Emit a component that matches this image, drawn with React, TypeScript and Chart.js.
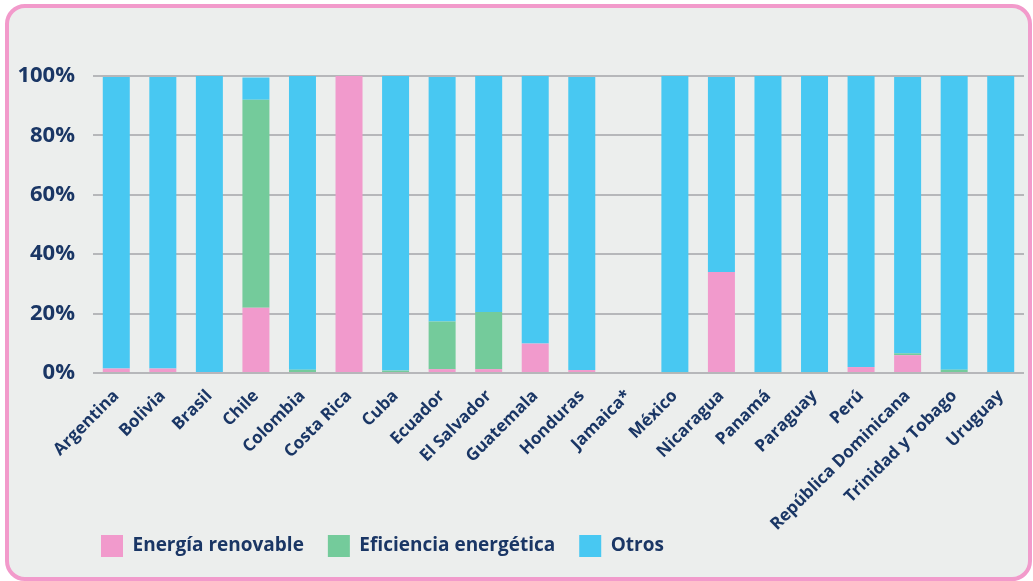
import React, { useEffect, useRef } from "react";
import { Chart, registerables } from "chart.js";

Chart.register(...registerables);

const countries = [
  "Argentina", "Bolivia", "Brasil", "Chile", "Colombia", "Costa Rica", "Cuba",
  "Ecuador", "El Salvador", "Guatemala", "Honduras", "Jamaica*", "México",
  "Nicaragua", "Panamá", "Paraguay", "Perú", "República Dominicana",
  "Trinidad y Tobago", "Uruguay",
];

// Shares (%) of each country's total by category
const energiaRenovable = [1.5, 1.5, 0.3, 22, 0.3, 100, 0, 1.3, 1.3, 9.9, 1, null, 0, 34, 0, 0, 2, 6, 0.3, 0];
const eficienciaEnergetica = [0, 0, 0, 70, 0.8, 0, 0.8, 16, 19.2, 0, 0, null, 0.3, 0, 0.3, 0.3, 0, 0.6, 0.8, 0.3];
const otros = [98.2, 98.2, 99.7, 7.5, 98.9, 0, 99.2, 82.4, 79.5, 90.1, 98.7, null, 99.7, 65.7, 99.7, 99.7, 98, 93.1, 98.9, 99.7];

const yTicks = [0, 20, 40, 60, 80, 100];

const NAVY = "#1a3665";
const FONT = "'Open Sans', 'Noto Sans', sans-serif";
const WEIGHT = 700;

// Places the legend row at a fixed spot under the axis labels and lets the
// long rotated category labels run past the axis box without being cut off.
const layoutTweaks = {
  id: "layoutTweaks",
  afterLayout(chart: any) {
    const lg = chart.legend;
    if (lg) {
      const pad = lg.options.labels.padding;
      const h = lg.height;
      const dx = 101 - pad - lg.left;
      lg.left += dx;
      lg.right += dx;
      lg.top = 535 - pad;
      lg.bottom = lg.top + h;
    }
    const x = chart.scales.x;
    if (x) x.bottom = chart.height;
  },
};

export default function App() {
  const canvasRef = useRef<HTMLCanvasElement>(null);

  useEffect(() => {
    const ctx = canvasRef.current!;
    const chart = new Chart(ctx, {
      type: "bar",
      data: {
        labels: countries,
        datasets: [
          { label: "Energía renovable", data: energiaRenovable, backgroundColor: "#f19acc" },
          { label: "Eficiencia energética", data: eficienciaEnergetica, backgroundColor: "#74cb9b" },
          { label: "Otros", data: otros, backgroundColor: "#48c8f2" },
        ],
      },
      options: {
        responsive: false,
        animation: false,
        layout: { padding: { top: 76, right: 9, bottom: 14, left: 0 } },
        datasets: {
          bar: { barPercentage: 0.58, categoryPercentage: 1, borderWidth: 0 },
        },
        scales: {
          x: {
            stacked: true,
            grid: { display: false },
            border: { display: false },
            afterFit: (s: any) => { s.height = 138; },
            ticks: {
              autoSkip: false,
              minRotation: 45,
              maxRotation: 45,
              padding: 5,
              color: NAVY,
              font: { family: FONT, size: 17, weight: WEIGHT },
            },
          },
          y: {
            stacked: true,
            min: 0,
            max: 100,
            afterFit: (s: any) => { s.width = 93; },
            afterBuildTicks: (s: any) => { s.ticks = yTicks.map((v) => ({ value: v })); },
            border: { display: false },
            grid: {
              drawTicks: false,
              lineWidth: 2,
              color: "#b6b7ba",
            },
            ticks: {
              padding: 18,
              color: NAVY,
              font: { family: FONT, size: 22, weight: WEIGHT },
              callback: (v: any) => v + "%",
            },
          },
        },
        plugins: {
          tooltip: { enabled: false },
          legend: {
            position: "bottom",
            align: "start",
            fullSize: false,
            labels: {
              boxWidth: 22,
              boxHeight: 22,
              padding: 24,
              color: NAVY,
              font: { family: FONT, size: 19, weight: WEIGHT },
            },
          },
        },
      },
      plugins: [layoutTweaks],
    });
    return () => chart.destroy();
  }, []);

  return (
    <div style={{ position: "fixed", left: 0, top: 0, width: 1033, height: 581, background: "#ffffff" }}>
      <div
        style={{
          position: "absolute",
          left: 5,
          top: 4,
          width: 1027,
          height: 577,
          boxSizing: "border-box",
          border: "4px solid #f29acb",
          borderRadius: 20,
          background: "#eceeed",
        }}
      />
      <canvas ref={canvasRef} width={1033} height={581} style={{ position: "absolute", left: 0, top: 0 }} />
    </div>
  );
}
